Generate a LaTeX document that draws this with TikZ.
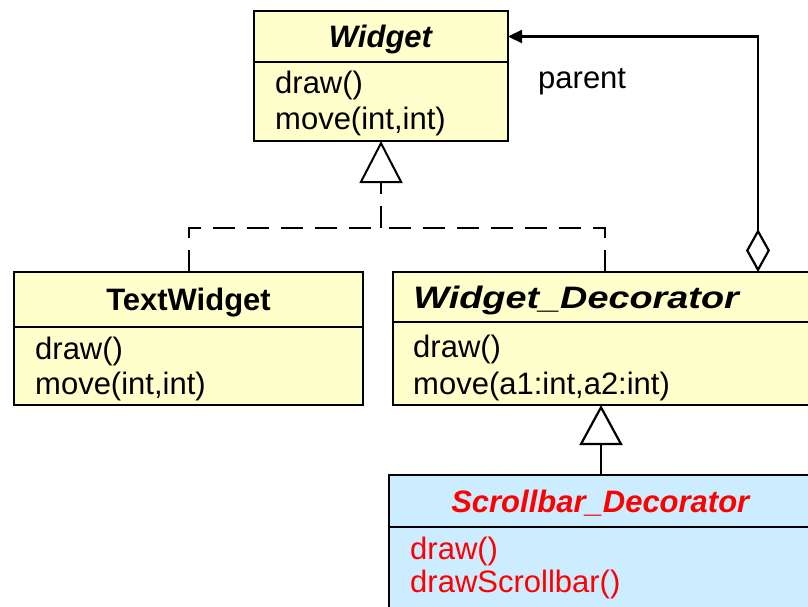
\documentclass[tikz,border=0pt]{standalone}
\usepackage{fontspec}
\setmainfont{Liberation Sans}
\usepackage{graphicx}
\usetikzlibrary{positioning,arrows.meta}

\definecolor{classyellow}{RGB}{255,255,204}
\definecolor{classblue}{RGB}{204,236,255}
\definecolor{newred}{RGB}{255,0,0}

\tikzset{
  classtitle/.style={draw, line width=2pt, fill=classyellow, inner sep=0pt, outer sep=0pt,
    text height=22pt, text depth=0pt, font=\bfseries\fontsize{31}{35}\selectfont},
  classbody/.style={draw, line width=2pt, fill=classyellow, inner sep=0pt, outer sep=0pt},
  method/.style={anchor=base west, inner sep=0pt, font=\fontsize{31}{35}\selectfont},
  realize/.style={line width=2pt, dash pattern=on 22pt off 12pt,
    -{Triangle[length=42pt,width=43pt,fill=white]}},
  extends/.style={line width=2.2pt, -{Triangle[length=40pt,width=43pt,fill=white]}},
  aggregate/.style={line width=2.2pt,
    {Diamond[length=43pt,width=24pt,fill=white]}-{Triangle[length=14pt,width=13pt]}},
}

\begin{document}
\begin{tikzpicture}[x=1pt,y=-1pt]
\useasboundingbox (0,0) rectangle (808,607);

% Widget
\node[classtitle, minimum width=254pt, minimum height=51pt] (widget) at (381,36.5) {\textit{Widget}};
\node[classbody, minimum width=254pt, minimum height=79pt, below=0pt of widget] (widgetops) {};
\node[method] (widgetdraw) at ([shift={(21,32)}]widgetops.north west) {draw()};
\node[method] (widgetmove) at ([shift={(21,67)}]widgetops.north west) {move(int,int)};

% TextWidget
\node[classtitle, minimum width=349pt, minimum height=55pt] (textwidget) at (188.5,299.5) {TextWidget};
\node[classbody, minimum width=349pt, minimum height=78pt, below=0pt of textwidget] (textwidgetops) {};
\node[method] (textwidgetdraw) at ([shift={(21,32)}]textwidgetops.north west) {draw()};
\node[method] (textwidgetmove) at ([shift={(21,67)}]textwidgetops.north west) {move(int,int)};

% Widget_Decorator
\node[classtitle, minimum width=424pt, minimum height=50pt] (decorator) at (605,297)
  {\hspace*{-56pt}\scalebox{1.22}[1]{\textit{Widget\_Decorator}}};
\node[classbody, minimum width=424pt, minimum height=83pt, below=0pt of decorator] (decoratorops) {};
\node[method] (decoratordraw) at ([shift={(20,35)}]decoratorops.north west) {draw()};
\node[method] (decoratormove) at ([shift={(20,72)}]decoratorops.north west) {move(a1:int,a2:int)};

% Scrollbar_Decorator
\node[classtitle, fill=classblue, text=newred, minimum width=424pt, minimum height=52pt] (scrollbar) at (601,501)
  {\textit{Scrollbar\_Decorator}};
\node[classbody, fill=classblue, minimum width=424pt, minimum height=100pt, below=0pt of scrollbar] (scrollbarops) {};
\node[method, text=newred] (scrollbardraw) at ([shift={(21,32)}]scrollbarops.north west) {draw()};
\node[method, text=newred] (scrollbardrawbar) at ([shift={(21,65)}]scrollbarops.north west) {drawScrollbar()};

% connectors
\coordinate (join) at (381,228);
\coordinate (aggx) at (758,0);
\draw[line width=2pt, dash pattern=on 22pt off 12pt] (textwidget.north) |- (join);
\draw[line width=2pt, dash pattern=on 22pt off 12pt] (decorator.north) |- (join);
\draw[realize] (join) -- (widgetops.south);
\draw[extends] (scrollbar.north) -- (scrollbar.north |- decoratorops.south);
\draw[aggregate] (decorator.north -| aggx) |- (widget.east);
\node[method] (parent) at ([shift={(30,52)}]widget.east) {parent};
\end{tikzpicture}
\end{document}
